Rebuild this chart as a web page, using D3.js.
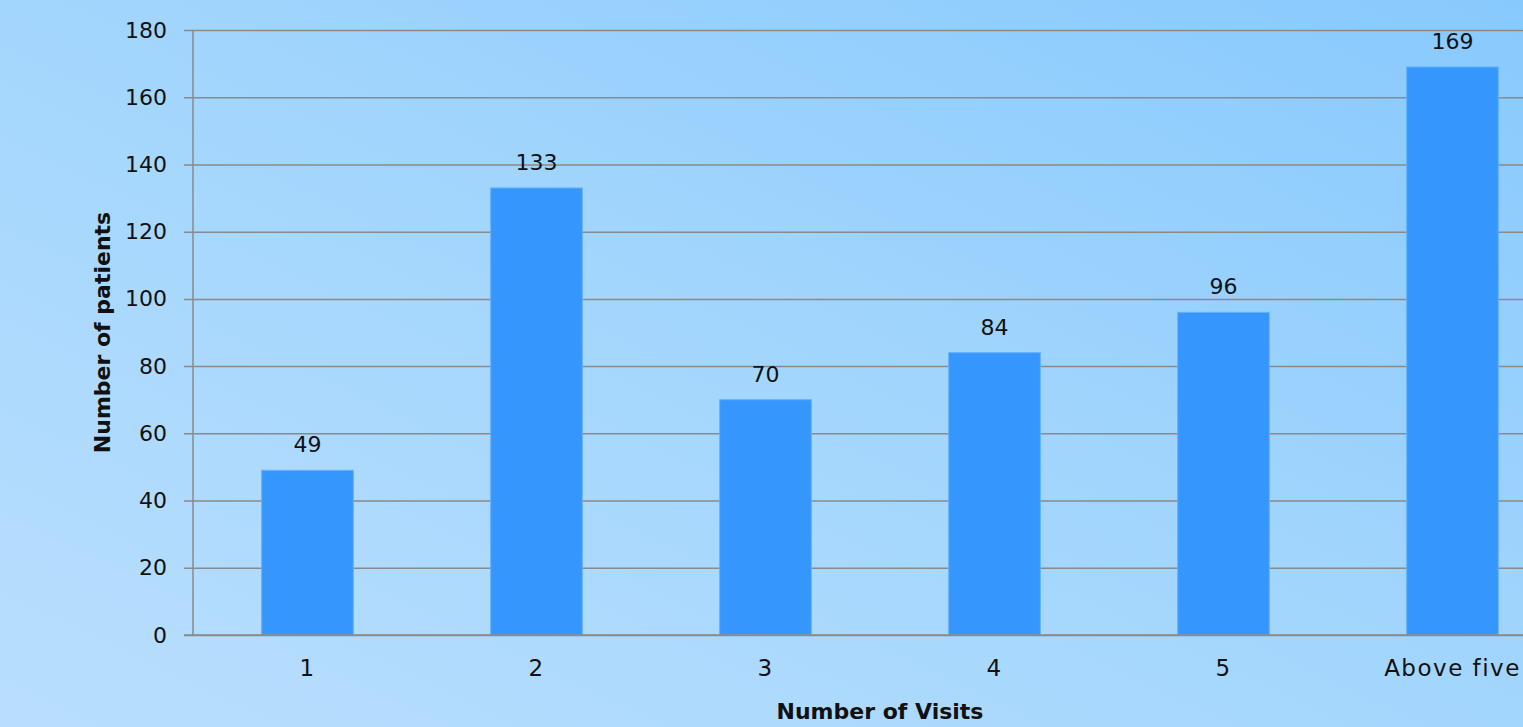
<!DOCTYPE html>
<html>
<head>
<meta charset="utf-8">
<script src="https://cdn.jsdelivr.net/npm/d3@7"></script>
<style>
  html, body { margin: 0; padding: 0; overflow: hidden; }
  svg { display: block; }
</style>
</head>
<body>
<div id="chart"></div>
<script>
  // data
  var categories = ['1', '2', '3', '4', '5', 'Above five'];
  var patients = [49, 133, 70, 84, 96, 169];
  var yTicks = [0, 20, 40, 60, 80, 100, 120, 140, 160, 180];

  const WIDTH = 1523;
  const HEIGHT = 727;
  const MARGIN = {
    TOP: 30,
    LEFT: 193,
    BOTTOM: 92
  };
  var plotWidth = 6 * 229;
  var plotHeight = HEIGHT - MARGIN.TOP - MARGIN.BOTTOM;
  var FONT = '"DejaVu Sans", sans-serif';

  var svg = d3.select('#chart').append('svg')
    .attr('width', WIDTH)
    .attr('height', HEIGHT);

  var grad = svg.append('defs').append('linearGradient')
    .attr('id', 'bg')
    .attr('x1', '0%').attr('y1', '100%')
    .attr('x2', '100%').attr('y2', '0%');
  grad.append('stop').attr('offset', '0%').attr('stop-color', '#b9defd');
  grad.append('stop').attr('offset', '50%').attr('stop-color', '#a3d6fd');
  grad.append('stop').attr('offset', '100%').attr('stop-color', '#88c9fd');

  svg.append('rect')
    .attr('width', WIDTH)
    .attr('height', HEIGHT)
    .attr('fill', 'url(#bg)');

  var x = d3.scaleBand()
    .domain(categories)
    .range([0, plotWidth])
    .paddingInner(0.6)
    .paddingOuter(0.3);

  var y = d3.scaleLinear()
    .domain([0, 180])
    .range([plotHeight, 0]);

  var g = svg.append('g')
    .attr('transform', 'translate(' + MARGIN.LEFT + ',' + MARGIN.TOP + ')');

  // gridlines + y ticks
  var yAxis = d3.axisLeft(y)
    .tickValues(yTicks)
    .tickSize(-plotWidth)
    .tickPadding(26);

  var yg = g.append('g').attr('class', 'y axis').call(yAxis);
  yg.select('.domain').remove();
  yg.selectAll('.tick line')
    .attr('x1', -9)
    .attr('stroke', '#8a8a8a')
    .attr('stroke-width', 1.5);
  yg.selectAll('.tick text')
    .attr('font-family', FONT)
    .attr('font-size', 22)
    .attr('fill', '#111');

  // y axis line
  g.append('line')
    .attr('x1', 0).attr('x2', 0)
    .attr('y1', 0).attr('y2', plotHeight)
    .attr('stroke', '#8a8a8a')
    .attr('stroke-width', 1.5);

  g.selectAll('.bar')
    .data(patients)
    .enter().append('rect')
    .attr('class', 'bar')
    .attr('x', function(d, i) { return x(categories[i]); })
    .attr('width', x.bandwidth())
    .attr('y', function(d) { return y(d); })
    .attr('height', function(d) { return plotHeight - y(d); })
    .attr('fill', '#3597fd')
    .attr('stroke', '#63b0fc')
    .attr('stroke-width', 1);

  // x axis
  var xAxis = d3.axisBottom(x).tickSize(0).tickPadding(25);
  var xg = g.append('g')
    .attr('transform', 'translate(0,' + plotHeight + ')')
    .call(xAxis);
  xg.select('.domain')
    .attr('stroke', '#8a8a8a')
    .attr('stroke-width', 1.5)
    .attr('d', 'M-9,0H' + plotWidth);
  xg.selectAll('.tick text')
    .attr('font-family', FONT)
    .attr('font-size', 23)
    .attr('letter-spacing', '1.5px')
    .attr('fill', '#111');

  // value labels
  g.selectAll('.label')
    .data(patients)
    .enter().append('text')
    .attr('class', 'label')
    .attr('x', function(d, i) { return x(categories[i]) + x.bandwidth() / 2; })
    .attr('y', function(d) { return y(d) - 18; })
    .attr('text-anchor', 'middle')
    .attr('font-family', FONT)
    .attr('font-size', 22)
    .attr('fill', '#111')
    .text(function(d) { return d; });

  // axis titles
  svg.append('text')
    .attr('x', MARGIN.LEFT + plotWidth / 2)
    .attr('y', 719)
    .attr('text-anchor', 'middle')
    .attr('font-family', FONT)
    .attr('font-weight', 'bold')
    .attr('font-size', 22)
    .attr('fill', '#111')
    .text('Number of Visits');

  svg.append('text')
    .attr('transform', 'translate(110,' + (MARGIN.TOP + plotHeight / 2) + ') rotate(-90)')
    .attr('text-anchor', 'middle')
    .attr('font-family', FONT)
    .attr('font-weight', 'bold')
    .attr('font-size', 22)
    .attr('fill', '#111')
    .text('Number of patients');
</script>
</body>
</html>
